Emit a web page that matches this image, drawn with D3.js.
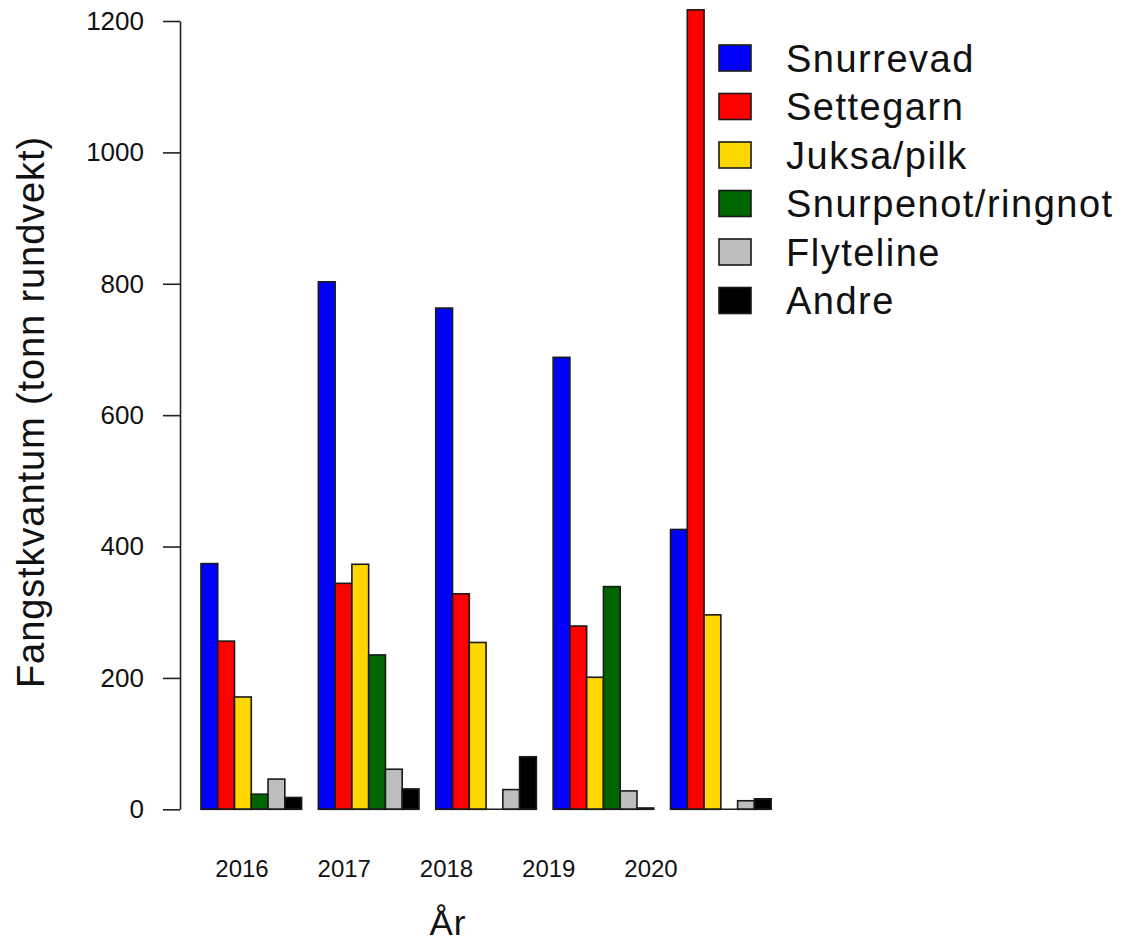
<!DOCTYPE html>
<html>
<head>
<meta charset="utf-8">
<script src="https://cdn.jsdelivr.net/npm/d3@7"></script>
<style>
  body { margin: 0; background: #fff; }
  svg { display: block; font-family: "Liberation Sans", Arial, sans-serif; }
</style>
</head>
<body>
<div id="chart"></div>
<script>
// data
const years = ['2016', '2017', '2018', '2019', '2020']
const gears = ['Snurrevad', 'Settegarn', 'Juksa/pilk', 'Snurpenot/ringnot', 'Flyteline', 'Andre']
const snurrevad = [374, 803, 763, 688, 426]
const settegarn = [256, 344, 328, 279, 1217]
const juksa = [171, 373, 254, 201, 296]
const snurpenot = [23, 235, 0, 339, 0]
const flyteline = [46, 61, 30, 28, 13]
const andre = [18, 31, 80, 2, 16]
const yTicks = [0, 200, 400, 600, 800, 1000, 1200]
const colors = ['#0000ff', '#ff0000', '#ffd700', '#006400', '#bebebe', '#000000']

const seriesValues = [snurrevad, settegarn, juksa, snurpenot, flyteline, andre]

const WIDTH = 1130, HEIGHT = 945

const svg = d3.select('#chart').append('svg')
  .attr('width', WIDTH)
  .attr('height', HEIGHT)

// ─── SCALES ─────────────────────────────────────────
// R style barplot: one empty unit before each group of six bars
const UNIT = 16.77
const x = d3.scaleBand()
  .domain(years)
  .range([184.2, 184.2 + 35 * UNIT])
  .paddingInner(1 / 7)
  .paddingOuter(1 / 14)
  .align(1)

const xInner = d3.scaleBand()
  .domain(gears)
  .range([0, x.bandwidth()])

const y = d3.scaleLinear()
  .domain([0, 1200])
  .range([809.3, 21])

// labels in the original sit a bit left of the group centres
const xLabel = d3.scalePoint()
  .domain(years)
  .range([242, 651])

// ─── BARS ───────────────────────────────────────────
const groups = svg.append('g').selectAll('g')
  .data(years)
  .join('g')
  .attr('transform', d => `translate(${x(d)}, 0)`)

groups.selectAll('rect')
  .data((yr, i) => gears.map((g, s) => ({ gear: g, s: s, value: seriesValues[s][i] })))
  .join('rect')
  .attr('x', d => xInner(d.gear))
  .attr('width', xInner.bandwidth())
  .attr('y', d => y(d.value))
  .attr('height', d => y(0) - y(d.value))
  .attr('fill', d => colors[d.s])
  .attr('stroke', '#1a1a1a')
  .attr('stroke-width', 1.6)

// zero bars still show their border along the bottom
groups.append('line')
  .attr('x1', 0)
  .attr('x2', x.bandwidth())
  .attr('y1', y(0))
  .attr('y2', y(0))
  .attr('stroke', '#1a1a1a')
  .attr('stroke-width', 1.6)

// ─── Y AXIS ─────────────────────────────────────────
const yAxis = svg.append('g')
  .attr('transform', 'translate(180, 0)')
  .call(d3.axisLeft(y).tickValues(yTicks).tickFormat(d3.format('d'))
    .tickSize(17).tickSizeOuter(0).tickPadding(19))

yAxis.select('.domain').attr('stroke', '#222').attr('stroke-width', 1.6)
yAxis.selectAll('.tick line').attr('stroke', '#222').attr('stroke-width', 1.6)
yAxis.selectAll('.tick text')
  .attr('font-size', 26)
  .attr('font-family', '"Liberation Sans", Arial, sans-serif')
  .attr('fill', '#111')

// ─── X LABELS ───────────────────────────────────────
svg.append('g').selectAll('text')
  .data(years)
  .join('text')
  .attr('x', d => xLabel(d))
  .attr('y', 877)
  .attr('text-anchor', 'middle')
  .attr('font-size', 24)
  .attr('fill', '#111')
  .text(d => d)

// axis titles
svg.append('text')
  .attr('x', 448)
  .attr('y', 935)
  .attr('text-anchor', 'middle')
  .attr('font-size', 35)
  .attr('letter-spacing', 1)
  .attr('fill', '#111')
  .text('År')

svg.append('text')
  .attr('transform', 'translate(44, 412) rotate(-90)')
  .attr('text-anchor', 'middle')
  .attr('font-size', 38)
  .attr('letter-spacing', 0.9)
  .attr('fill', '#111')
  .text('Fangstkvantum (tonn rundvekt)')

// ─── LEGEND ─────────────────────────────────────────
const legend = svg.append('g').attr('transform', 'translate(719, 45)')
const rows = legend.selectAll('g')
  .data(gears)
  .join('g')
  .attr('transform', (d, i) => `translate(0, ${i * 48.5})`)

rows.append('rect')
  .attr('width', 32)
  .attr('height', 26)
  .attr('fill', (d, i) => colors[i])
  .attr('stroke', '#1a1a1a')
  .attr('stroke-width', 1.6)

rows.append('text')
  .attr('x', 67)
  .attr('y', 13)
  .attr('dy', '0.36em')
  .attr('font-size', 38)
  .attr('letter-spacing', 1.5)
  .attr('fill', '#111')
  .text(d => d)
</script>
</body>
</html>
